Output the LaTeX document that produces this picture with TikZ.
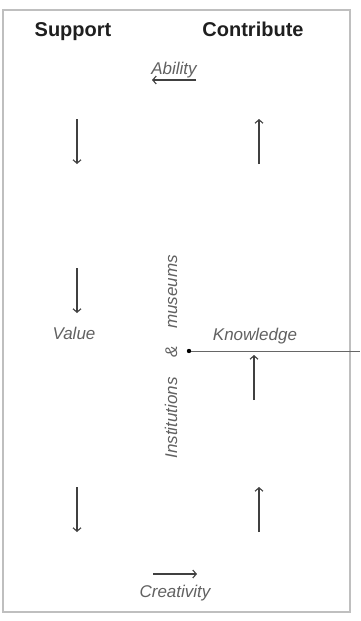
\documentclass[tikz,border=0pt]{standalone}
\usepackage{fontspec}
\setmainfont{Liberation Sans}
\usetikzlibrary{arrows.meta}
\begin{document}
\begin{tikzpicture}[x=1pt,y=-1pt,
  head/.style={font=\bfseries\fontsize{20}{24}\selectfont, text=black!88, inner sep=0pt, anchor=base},
  lab/.style={font=\itshape\fontsize{17}{20}\selectfont, text=black!62, inner sep=0pt, anchor=base},
  arr/.style={draw=black!75, line width=1.1pt, -{Straight Barb[length=3.5pt,width=8pt,line width=1.1pt]}},
]
\useasboundingbox (0,0) rectangle (360,621);
\draw[black!25, line width=1.4pt] (3,10) rectangle (350,612);

% headers
\node[head] (sup) at (73,36) {Support};
\node[head] (con) at (253,36) {Contribute};

% labels
\node[lab] (abi) at (174,74) {Ability};
\node[lab] (val) at (74,339) {Value};
\node[lab] (kno) at (255,340) {Knowledge};
\node[lab] (cre) at (175,597) {Creativity};

% rotated text
\node[lab, rotate=90] (mus) at (177,292) {museums};
\node[lab, rotate=90] (amp) at (177,352) {\&};
\node[lab, rotate=90] (ins) at (177,418) {Institutions};

% arrows
\coordinate (a1s) at (196,80); \coordinate (a1e) at (152,80);
\draw[arr] (a1s) -- (a1e);
\coordinate (a2s) at (153,574); \coordinate (a2e) at (197,574);
\draw[arr] (a2s) -- (a2e);

\coordinate (l1s) at (77,119); \coordinate (l1e) at (77,164);
\draw[arr] (l1s) -- (l1e);
\coordinate (l2s) at (77,268); \coordinate (l2e) at (77,313);
\draw[arr] (l2s) -- (l2e);
\coordinate (l3s) at (77,487); \coordinate (l3e) at (77,532);
\draw[arr] (l3s) -- (l3e);

\coordinate (r1s) at (259,164); \coordinate (r1e) at (259,119);
\draw[arr] (r1s) -- (r1e);
\coordinate (r2s) at (254,400); \coordinate (r2e) at (254,355);
\draw[arr] (r2s) -- (r2e);
\coordinate (r3s) at (259,532); \coordinate (r3e) at (259,487);
\draw[arr] (r3s) -- (r3e);

% dot and line
\coordinate (dot) at (189,351);
\coordinate (out) at (360,351);
\draw[black!60, line width=0.7pt] (dot) -- (out);
\fill[black] (dot) circle (2.2pt);
\end{tikzpicture}
\end{document}
